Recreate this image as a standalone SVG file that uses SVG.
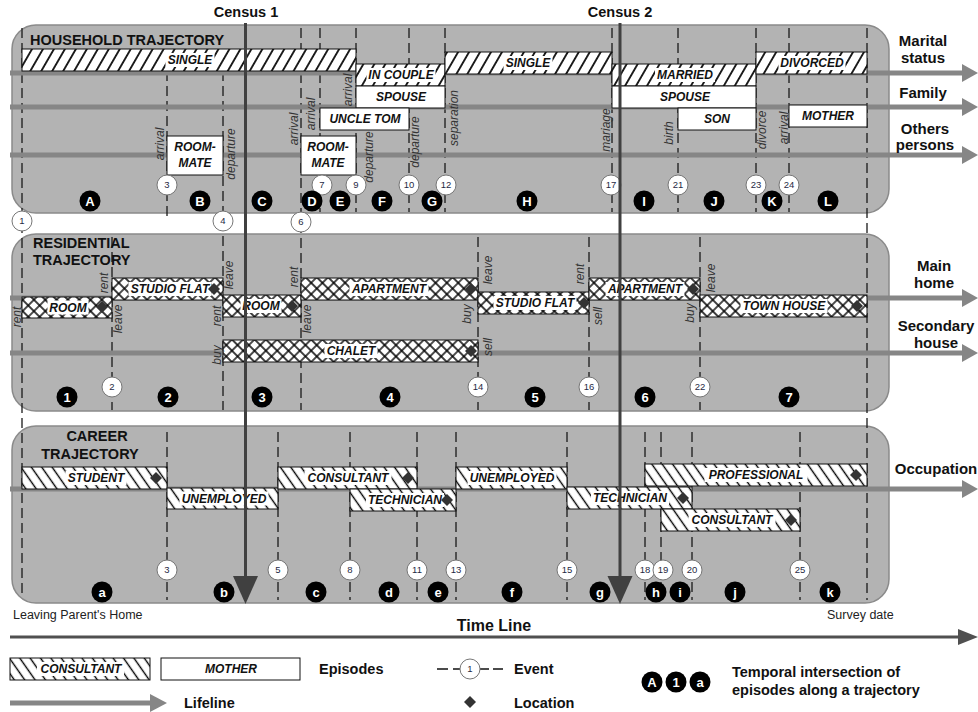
<svg xmlns="http://www.w3.org/2000/svg" width="978" height="712" viewBox="0 0 978 712">
<style>
.panel{fill:#b3b3b3;stroke:#8a8a8a;stroke-width:1.5}
.ev{stroke:#1a1a1a;stroke-width:1.3;stroke-dasharray:10 5;fill:none}
.life{stroke:#868686;stroke-width:5}
.head{fill:#868686}
.bar{stroke:#111;stroke-width:1}
.wbox{fill:#fff;stroke:#111;stroke-width:1}
.bg{fill:#fff}
.lbl{font-family:"Liberation Sans",Arial,sans-serif;font-size:12px;font-weight:bold;font-style:italic;fill:#111;text-anchor:middle}
.rot{font-family:"Liberation Sans",Arial,sans-serif;font-size:12px;font-style:italic;fill:#333;text-anchor:middle}
.evc{fill:#fff;stroke:#777;stroke-width:1}
.evn{font-family:"Liberation Sans",Arial,sans-serif;font-size:9.5px;fill:#1f2a44;text-anchor:middle}
.ltt{font-family:"Liberation Sans",Arial,sans-serif;font-size:13px;font-weight:bold;fill:#fff;text-anchor:middle}
.title{font-family:"Liberation Sans",Arial,sans-serif;font-size:14.5px;font-weight:bold;fill:#111}
.side{font-family:"Liberation Sans",Arial,sans-serif;font-size:15px;font-weight:bold;fill:#111;text-anchor:middle}
.note{font-family:"Liberation Sans",Arial,sans-serif;font-size:12.5px;fill:#222}
.census{stroke:#404040;stroke-width:3}
</style>
<defs>
<pattern id="pHH" width="9.5" height="9.5" patternUnits="userSpaceOnUse" patternTransform="rotate(30)"><rect width="9.5" height="9.5" fill="#fff"/><line x1="4.75" y1="-1" x2="4.75" y2="10.5" stroke="#000" stroke-width="1.7"/></pattern>
<pattern id="pRes" width="8" height="8" patternUnits="userSpaceOnUse" patternTransform="rotate(45)"><rect width="8" height="8" fill="#fff"/><path d="M4,-1V9M-1,4H9" stroke="#000" stroke-width="1.4"/></pattern>
<pattern id="pCar" width="8.5" height="8.5" patternUnits="userSpaceOnUse" patternTransform="rotate(-35)"><rect width="8.5" height="8.5" fill="#fff"/><line x1="4.25" y1="-1" x2="4.25" y2="9.5" stroke="#000" stroke-width="1.4"/></pattern>
<path id="dia" d="M0,-6L6,0L0,6L-6,0Z" fill="#333"/>
</defs>

<!-- Panels -->
<g id="panel-household"><rect class="panel" x="12" y="25" width="877" height="188" rx="24"/></g>
<g id="panel-residential"><rect class="panel" x="12" y="234" width="877" height="177" rx="24"/></g>
<g id="panel-career"><rect class="panel" x="12" y="426" width="877" height="177" rx="24"/></g>

<!-- Connectors: event lines and lifelines -->
<g id="connectors">
<g id="event-lines">
<line class="ev" x1="22" y1="28" x2="22" y2="598"/>
<line class="ev" x1="867" y1="28" x2="867" y2="600"/>
<line class="ev" x1="167" y1="71" x2="167" y2="217"/>
<line class="ev" x1="223" y1="71" x2="223" y2="410"/>
<line class="ev" x1="301" y1="28" x2="301" y2="410"/>
<line class="ev" x1="320" y1="28" x2="320" y2="212"/>
<line class="ev" x1="356" y1="28" x2="356" y2="212"/>
<line class="ev" x1="409" y1="28" x2="409" y2="212"/>
<line class="ev" x1="445" y1="28" x2="445" y2="212"/>
<line class="ev" x1="612" y1="28" x2="612" y2="212"/>
<line class="ev" x1="678" y1="28" x2="678" y2="212"/>
<line class="ev" x1="756" y1="28" x2="756" y2="212"/>
<line class="ev" x1="789" y1="28" x2="789" y2="212"/>
<line class="ev" x1="112" y1="237" x2="112" y2="410"/>
<line class="ev" x1="478" y1="237" x2="478" y2="410"/>
<line class="ev" x1="589" y1="237" x2="589" y2="410"/>
<line class="ev" x1="700" y1="237" x2="700" y2="410"/>
<line class="ev" x1="167" y1="432" x2="167" y2="600"/>
<line class="ev" x1="278" y1="432" x2="278" y2="600"/>
<line class="ev" x1="350" y1="432" x2="350" y2="600"/>
<line class="ev" x1="417" y1="432" x2="417" y2="600"/>
<line class="ev" x1="456" y1="432" x2="456" y2="600"/>
<line class="ev" x1="567" y1="432" x2="567" y2="600"/>
<line class="ev" x1="645" y1="432" x2="645" y2="600"/>
<line class="ev" x1="661" y1="432" x2="661" y2="600"/>
<line class="ev" x1="692" y1="432" x2="692" y2="600"/>
<line class="ev" x1="800" y1="432" x2="800" y2="600"/>
</g>
<g id="lifelines">
<line class="life" x1="10" y1="73" x2="963" y2="73"/><polygon class="head" points="962,64 978,73 962,82"/>
<line class="life" x1="10" y1="107" x2="963" y2="107"/><polygon class="head" points="962,98 978,107 962,116"/>
<line class="life" x1="10" y1="155" x2="963" y2="155"/><polygon class="head" points="962,146 978,155 962,164"/>
<line class="life" x1="10" y1="298" x2="963" y2="298"/><polygon class="head" points="962,289 978,298 962,307"/>
<line class="life" x1="10" y1="353" x2="963" y2="353"/><polygon class="head" points="962,344 978,353 962,362"/>
<line class="life" x1="10" y1="489" x2="963" y2="489"/><polygon class="head" points="962,480 978,489 962,498"/>
<line x1="10" y1="637" x2="960" y2="637" stroke="#505050" stroke-width="3"/><polygon points="958,629 978,637 958,645" fill="#505050"/>
</g>
</g>

<!-- Lifeline labels -->
<g id="lifeline-labels">
<text class="side" x="923" y="46">Marital</text><text class="side" x="923" y="63">status</text>
<text class="side" x="923" y="98">Family</text>
<text class="side" x="925" y="134">Others</text><text class="side" x="925" y="150">persons</text>
<text class="side" x="934" y="271">Main</text><text class="side" x="934" y="288">home</text>
<text class="side" x="936" y="331">Secondary</text><text class="side" x="936" y="348">house</text>
<text class="side" x="936" y="474">Occupation</text>
<text x="494" y="631" font-family="Liberation Sans, Arial, sans-serif" font-size="16" font-weight="bold" text-anchor="middle" fill="#111">Time Line</text>
<text class="note" x="13" y="619">Leaving Parent's Home</text>
<text class="note" x="827" y="619">Survey date</text>
</g>

<!-- Panel titles -->
<g id="titles">
<text class="title" x="30" y="45">HOUSEHOLD TRAJECTORY</text>
<text class="title" x="33" y="248">RESIDENTIAL</text><text class="title" x="33" y="265">TRAJECTORY</text>
<text class="title" x="97" y="441" text-anchor="middle">CAREER</text><text class="title" x="90" y="459" text-anchor="middle">TRAJECTORY</text>
</g>

<!-- Household episodes -->
<g id="hh-single1"><rect class="bar" x="22" y="49" width="334" height="22" fill="url(#pHH)"/><rect class="bg" x="165.5" y="53" width="49" height="14"/><text class="lbl" x="190" y="64.3">SINGLE</text></g>
<g id="hh-incouple"><rect class="bar" x="356" y="64" width="89" height="22" fill="url(#pHH)"/><rect class="bg" x="366.5" y="68" width="69" height="14"/><text class="lbl" x="401" y="79.3">IN COUPLE</text></g>
<g id="hh-single2"><rect class="bar" x="445" y="52" width="167" height="22" fill="url(#pHH)"/><rect class="bg" x="503.5" y="56" width="49" height="14"/><text class="lbl" x="528" y="67.3">SINGLE</text></g>
<g id="hh-married"><rect class="bar" x="612" y="64" width="144" height="22" fill="url(#pHH)"/><rect class="bg" x="655" y="68" width="60" height="14"/><text class="lbl" x="685" y="79.3">MARRIED</text></g>
<g id="hh-divorced"><rect class="bar" x="756" y="52" width="111" height="22" fill="url(#pHH)"/><rect class="bg" x="778.5" y="56" width="67" height="14"/><text class="lbl" x="812" y="67.3">DIVORCED</text></g>
<g id="hh-spouse1"><rect class="wbox" x="356" y="86" width="89" height="22"/><text class="lbl" x="401" y="101.3">SPOUSE</text></g>
<g id="hh-spouse2"><rect class="wbox" x="612" y="86" width="144" height="22"/><text class="lbl" x="685" y="101.3">SPOUSE</text></g>
<g id="hh-uncletom"><rect class="wbox" x="320" y="108" width="89" height="22"/><text class="lbl" x="365" y="123.3">UNCLE TOM</text></g>
<g id="hh-son"><rect class="wbox" x="678" y="108" width="78" height="22"/><text class="lbl" x="717" y="123.3">SON</text></g>
<g id="hh-mother"><rect class="wbox" x="789" y="105" width="78" height="22"/><text class="lbl" x="828" y="120.3">MOTHER</text></g>
<g id="hh-roommate1"><rect class="wbox" x="167" y="136" width="56" height="39"/><text class="lbl" x="195" y="151">ROOM-</text><text class="lbl" x="195" y="167">MATE</text></g>
<g id="hh-roommate2"><rect class="wbox" x="301" y="136" width="55" height="39"/><text class="lbl" x="328" y="151">ROOM-</text><text class="lbl" x="328" y="167">MATE</text></g>

<!-- Residential episodes -->
<g id="res-room1"><rect class="bar" x="22" y="297" width="90" height="21" fill="url(#pRes)"/><rect class="bg" x="47.5" y="300.5" width="41" height="14"/><text class="lbl" x="68" y="311.8">ROOM</text><use href="#dia" x="102" y="307"/></g>
<g id="res-studio1"><rect class="bar" x="112" y="278" width="111" height="22" fill="url(#pRes)"/><rect class="bg" x="128.5" y="282" width="83" height="14"/><text class="lbl" x="170" y="293.3">STUDIO FLAT</text><use href="#dia" x="214" y="289"/></g>
<g id="res-room2"><rect class="bar" x="223" y="295" width="78" height="22" fill="url(#pRes)"/><rect class="bg" x="240.5" y="299" width="41" height="14"/><text class="lbl" x="261" y="310.3">ROOM</text><use href="#dia" x="292" y="306"/></g>
<g id="res-apartment1"><rect class="bar" x="301" y="278" width="177" height="22" fill="url(#pRes)"/><rect class="bg" x="349.5" y="282" width="79" height="14"/><text class="lbl" x="389" y="293.3">APARTMENT</text><use href="#dia" x="471" y="289"/></g>
<g id="res-chalet"><rect class="bar" x="223" y="340" width="255" height="22" fill="url(#pRes)"/><rect class="bg" x="324.5" y="344" width="53" height="14"/><text class="lbl" x="351" y="355.3">CHALET</text><use href="#dia" x="471" y="351"/></g>
<g id="res-studio2"><rect class="bar" x="478" y="292" width="111" height="22" fill="url(#pRes)"/><rect class="bg" x="493.5" y="296" width="83" height="14"/><text class="lbl" x="535" y="307.3">STUDIO FLAT</text><use href="#dia" x="584" y="303"/></g>
<g id="res-apartment2"><rect class="bar" x="589" y="278" width="111" height="22" fill="url(#pRes)"/><rect class="bg" x="605.5" y="282" width="79" height="14"/><text class="lbl" x="645" y="293.3">APARTMENT</text><use href="#dia" x="693" y="289"/></g>
<g id="res-townhouse"><rect class="bar" x="700" y="295" width="167" height="22" fill="url(#pRes)"/><rect class="bg" x="740.5" y="299" width="87" height="14"/><text class="lbl" x="784" y="310.3">TOWN HOUSE</text><use href="#dia" x="857" y="306"/></g>

<!-- Career episodes -->
<g id="car-student"><rect class="bar" x="22" y="467" width="145" height="22" fill="url(#pCar)"/><rect class="bg" x="65.5" y="471" width="61" height="14"/><text class="lbl" x="96" y="482.3">STUDENT</text><use href="#dia" x="156" y="478"/></g>
<g id="car-unemployed1"><rect class="bar" x="167" y="488" width="111" height="21" fill="url(#pCar)"/><rect class="bg" x="179.5" y="491.5" width="89" height="14"/><text class="lbl" x="224" y="502.8">UNEMPLOYED</text></g>
<g id="car-consultant1"><rect class="bar" x="278" y="467" width="139" height="22" fill="url(#pCar)"/><rect class="bg" x="304.5" y="471" width="87" height="14"/><text class="lbl" x="348" y="482.3">CONSULTANT</text><use href="#dia" x="408" y="478"/></g>
<g id="car-technician1"><rect class="bar" x="350" y="489" width="106" height="22" fill="url(#pCar)"/><rect class="bg" x="366" y="493" width="78" height="14"/><text class="lbl" x="405" y="504.3">TECHNICIAN</text><use href="#dia" x="447" y="500"/></g>
<g id="car-unemployed2"><rect class="bar" x="456" y="467" width="111" height="22" fill="url(#pCar)"/><rect class="bg" x="467.5" y="471" width="89" height="14"/><text class="lbl" x="512" y="482.3">UNEMPLOYED</text></g>
<g id="car-technician2"><rect class="bar" x="567" y="487" width="125" height="22" fill="url(#pCar)"/><rect class="bg" x="591" y="491" width="78" height="14"/><text class="lbl" x="630" y="502.3">TECHNICIAN</text><use href="#dia" x="683" y="498"/></g>
<g id="car-professional"><rect class="bar" x="645" y="464" width="222" height="22" fill="url(#pCar)"/><rect class="bg" x="704.5" y="468" width="103" height="14"/><text class="lbl" x="756" y="479.3">PROFESSIONAL</text><use href="#dia" x="856" y="475"/></g>
<g id="car-consultant2"><rect class="bar" x="661" y="509" width="139" height="22" fill="url(#pCar)"/><rect class="bg" x="688.5" y="513" width="87" height="14"/><text class="lbl" x="732" y="524.3">CONSULTANT</text><use href="#dia" x="791" y="520"/></g>

<!-- Event type labels (rotated) -->
<g id="event-labels">
<text class="rot" transform="translate(160,144) rotate(-90)" y="4">arrival</text>
<text class="rot" transform="translate(231,154) rotate(-90)" y="4">departure</text>
<text class="rot" transform="translate(294,129) rotate(-90)" y="4">arrival</text>
<text class="rot" transform="translate(311,114) rotate(-90)" y="4">arrival</text>
<text class="rot" transform="translate(348,90) rotate(-90)" y="4">arrival</text>
<text class="rot" transform="translate(369,157) rotate(-90)" y="4">departure</text>
<text class="rot" transform="translate(415,142) rotate(-90)" y="4">departure</text>
<text class="rot" transform="translate(454,118) rotate(-90)" y="4">separation</text>
<text class="rot" transform="translate(606,130) rotate(-90)" y="4">mariage</text>
<text class="rot" transform="translate(669,133) rotate(-90)" y="4">birth</text>
<text class="rot" transform="translate(762,130) rotate(-90)" y="4">divorce</text>
<text class="rot" transform="translate(784,128) rotate(-90)" y="4">arrival</text>
<text class="rot" transform="translate(17,317) rotate(-90)" y="4">rent</text>
<text class="rot" transform="translate(104,283) rotate(-90)" y="4">rent</text>
<text class="rot" transform="translate(118,319) rotate(-90)" y="4">leave</text>
<text class="rot" transform="translate(229,275) rotate(-90)" y="4">leave</text>
<text class="rot" transform="translate(217,316) rotate(-90)" y="4">rent</text>
<text class="rot" transform="translate(217,355) rotate(-90)" y="4">buy</text>
<text class="rot" transform="translate(294,277) rotate(-90)" y="4">rent</text>
<text class="rot" transform="translate(307,319) rotate(-90)" y="4">leave</text>
<text class="rot" transform="translate(488,270) rotate(-90)" y="4">leave</text>
<text class="rot" transform="translate(467,314) rotate(-90)" y="4">buy</text>
<text class="rot" transform="translate(488,347) rotate(-90)" y="4">sell</text>
<text class="rot" transform="translate(580,274) rotate(-90)" y="4">rent</text>
<text class="rot" transform="translate(598,316) rotate(-90)" y="4">sell</text>
<text class="rot" transform="translate(711,278) rotate(-90)" y="4">leave</text>
<text class="rot" transform="translate(690,313) rotate(-90)" y="4">buy</text>
</g>

<!-- Event circles -->
<g id="events">
<g id="e1"><circle class="evc" cx="22" cy="221" r="10"/><text class="evn" x="22" y="224.4">1</text></g>
<g id="e4"><circle class="evc" cx="223" cy="221" r="10"/><text class="evn" x="223" y="224.4">4</text></g>
<g id="e6"><circle class="evc" cx="301" cy="222" r="10"/><text class="evn" x="301" y="225.4">6</text></g>
<g id="e3h"><circle class="evc" cx="167" cy="185" r="10"/><text class="evn" x="167" y="188.4">3</text></g>
<g id="e7"><circle class="evc" cx="322" cy="185" r="10"/><text class="evn" x="322" y="188.4">7</text></g>
<g id="e9"><circle class="evc" cx="356" cy="185" r="10"/><text class="evn" x="356" y="188.4">9</text></g>
<g id="e10"><circle class="evc" cx="409" cy="185" r="10"/><text class="evn" x="409" y="188.4">10</text></g>
<g id="e12"><circle class="evc" cx="446" cy="185" r="10"/><text class="evn" x="446" y="188.4">12</text></g>
<g id="e17"><circle class="evc" cx="611" cy="185" r="10"/><text class="evn" x="611" y="188.4">17</text></g>
<g id="e21"><circle class="evc" cx="678" cy="185" r="10"/><text class="evn" x="678" y="188.4">21</text></g>
<g id="e23"><circle class="evc" cx="756" cy="185" r="10"/><text class="evn" x="756" y="188.4">23</text></g>
<g id="e24"><circle class="evc" cx="789" cy="185" r="10"/><text class="evn" x="789" y="188.4">24</text></g>
<g id="e2"><circle class="evc" cx="112" cy="387" r="10"/><text class="evn" x="112" y="390.4">2</text></g>
<g id="e14"><circle class="evc" cx="478" cy="387" r="10"/><text class="evn" x="478" y="390.4">14</text></g>
<g id="e16"><circle class="evc" cx="589" cy="387" r="10"/><text class="evn" x="589" y="390.4">16</text></g>
<g id="e22"><circle class="evc" cx="700" cy="387" r="10"/><text class="evn" x="700" y="390.4">22</text></g>
<g id="e3c"><circle class="evc" cx="167" cy="570" r="10"/><text class="evn" x="167" y="573.4">3</text></g>
<g id="e5"><circle class="evc" cx="278" cy="570" r="10"/><text class="evn" x="278" y="573.4">5</text></g>
<g id="e8"><circle class="evc" cx="350" cy="570" r="10"/><text class="evn" x="350" y="573.4">8</text></g>
<g id="e11"><circle class="evc" cx="417" cy="570" r="10"/><text class="evn" x="417" y="573.4">11</text></g>
<g id="e13"><circle class="evc" cx="456" cy="570" r="10"/><text class="evn" x="456" y="573.4">13</text></g>
<g id="e15"><circle class="evc" cx="567" cy="570" r="10"/><text class="evn" x="567" y="573.4">15</text></g>
<g id="e18"><circle class="evc" cx="645" cy="570" r="10"/><text class="evn" x="645" y="573.4">18</text></g>
<g id="e19"><circle class="evc" cx="663" cy="570" r="10"/><text class="evn" x="663" y="573.4">19</text></g>
<g id="e20"><circle class="evc" cx="692" cy="570" r="10"/><text class="evn" x="692" y="573.4">20</text></g>
<g id="e25"><circle class="evc" cx="800" cy="570" r="10"/><text class="evn" x="800" y="573.4">25</text></g>
</g>

<!-- Census lines -->
<g id="census1"><text class="title" x="246" y="17" text-anchor="middle">Census 1</text><line class="census" x1="245.5" y1="23" x2="245.5" y2="580"/><polygon points="233,576 258,576 245.5,604" fill="#404040"/></g>
<g id="census2"><text class="title" x="620" y="17" text-anchor="middle">Census 2</text><line class="census" x1="620" y1="23" x2="620" y2="580"/><polygon points="607.5,576 632.5,576 620,604" fill="#404040"/></g>

<!-- Temporal intersections -->
<g id="intersections">
<g fill="#000">
<circle cx="90" cy="201" r="10.5"/><circle cx="200" cy="201" r="10.5"/><circle cx="262" cy="201" r="10.5"/><circle cx="312" cy="201" r="10.5"/><circle cx="340" cy="201" r="10.5"/><circle cx="382" cy="201" r="10.5"/><circle cx="432" cy="201" r="10.5"/><circle cx="527" cy="201" r="10.5"/><circle cx="644" cy="201" r="10.5"/><circle cx="714" cy="201" r="10.5"/><circle cx="772" cy="201" r="10.5"/><circle cx="828" cy="201" r="10.5"/>
<circle cx="67" cy="397" r="10.5"/><circle cx="168" cy="397" r="10.5"/><circle cx="262" cy="397" r="10.5"/><circle cx="390" cy="397" r="10.5"/><circle cx="535" cy="397" r="10.5"/><circle cx="645" cy="397" r="10.5"/><circle cx="789" cy="397" r="10.5"/>
<circle cx="102" cy="592" r="10.5"/><circle cx="224" cy="592" r="10.5"/><circle cx="316" cy="592" r="10.5"/><circle cx="389" cy="592" r="10.5"/><circle cx="438" cy="592" r="10.5"/><circle cx="512" cy="592" r="10.5"/><circle cx="600" cy="592" r="10.5"/><circle cx="656" cy="592" r="10.5"/><circle cx="680" cy="592" r="10.5"/><circle cx="735" cy="592" r="10.5"/><circle cx="830" cy="592" r="10.5"/>
</g>
<text class="ltt" x="90" y="205.5">A</text><text class="ltt" x="200" y="205.5">B</text><text class="ltt" x="262" y="205.5">C</text><text class="ltt" x="312" y="205.5">D</text><text class="ltt" x="340" y="205.5">E</text><text class="ltt" x="382" y="205.5">F</text><text class="ltt" x="432" y="205.5">G</text><text class="ltt" x="527" y="205.5">H</text><text class="ltt" x="644" y="205.5">I</text><text class="ltt" x="714" y="205.5">J</text><text class="ltt" x="772" y="205.5">K</text><text class="ltt" x="828" y="205.5">L</text>
<text class="ltt" x="67" y="401.5">1</text><text class="ltt" x="168" y="401.5">2</text><text class="ltt" x="262" y="401.5">3</text><text class="ltt" x="390" y="401.5">4</text><text class="ltt" x="535" y="401.5">5</text><text class="ltt" x="645" y="401.5">6</text><text class="ltt" x="789" y="401.5">7</text>
<text class="ltt" x="102" y="596.5">a</text><text class="ltt" x="224" y="596.5">b</text><text class="ltt" x="316" y="596.5">c</text><text class="ltt" x="389" y="596.5">d</text><text class="ltt" x="438" y="596.5">e</text><text class="ltt" x="512" y="596.5">f</text><text class="ltt" x="600" y="596.5">g</text><text class="ltt" x="656" y="596.5">h</text><text class="ltt" x="680" y="596.5">i</text><text class="ltt" x="735" y="596.5">j</text><text class="ltt" x="830" y="596.5">k</text>
</g>

<!-- Legend -->
<g id="legend">
<g id="lg-episode-hatch"><rect class="bar" x="10" y="658" width="140" height="22" fill="url(#pCar)"/><rect class="bg" x="37" y="662" width="87" height="14"/><text class="lbl" x="81" y="673.3">CONSULTANT</text></g>
<g id="lg-episode-box"><rect class="wbox" x="161" y="658" width="139" height="22"/><text class="lbl" x="231" y="673.3">MOTHER</text></g>
<text class="title" x="319" y="674">Episodes</text>
<g id="lg-event"><path d="M437,669H448M453,669H460M480,669H489M493,669H503" stroke="#111" stroke-width="1.3"/><circle class="evc" cx="470" cy="669" r="10"/><text class="evn" x="470" y="672.4">1</text></g>
<text class="title" x="514" y="674">Event</text>
<g id="lg-lifeline"><line class="life" x1="10" y1="703" x2="152" y2="703"/><polygon class="head" points="150,694 167,703 150,712"/></g>
<text class="title" x="184" y="708">Lifeline</text>
<use href="#dia" x="470" y="702"/>
<text class="title" x="514" y="708">Location</text>
<g id="lg-intersection"><circle cx="652" cy="682" r="10.5"/><circle cx="676" cy="682" r="10.5"/><circle cx="700" cy="682" r="10.5"/><text class="ltt" x="652" y="686.5">A</text><text class="ltt" x="676" y="686.5">1</text><text class="ltt" x="700" y="686.5">a</text></g>
<text class="title" x="732" y="677" font-size="15">Temporal intersection of</text>
<text class="title" x="732" y="695" font-size="15">episodes along a trajectory</text>
</g>
</svg>
